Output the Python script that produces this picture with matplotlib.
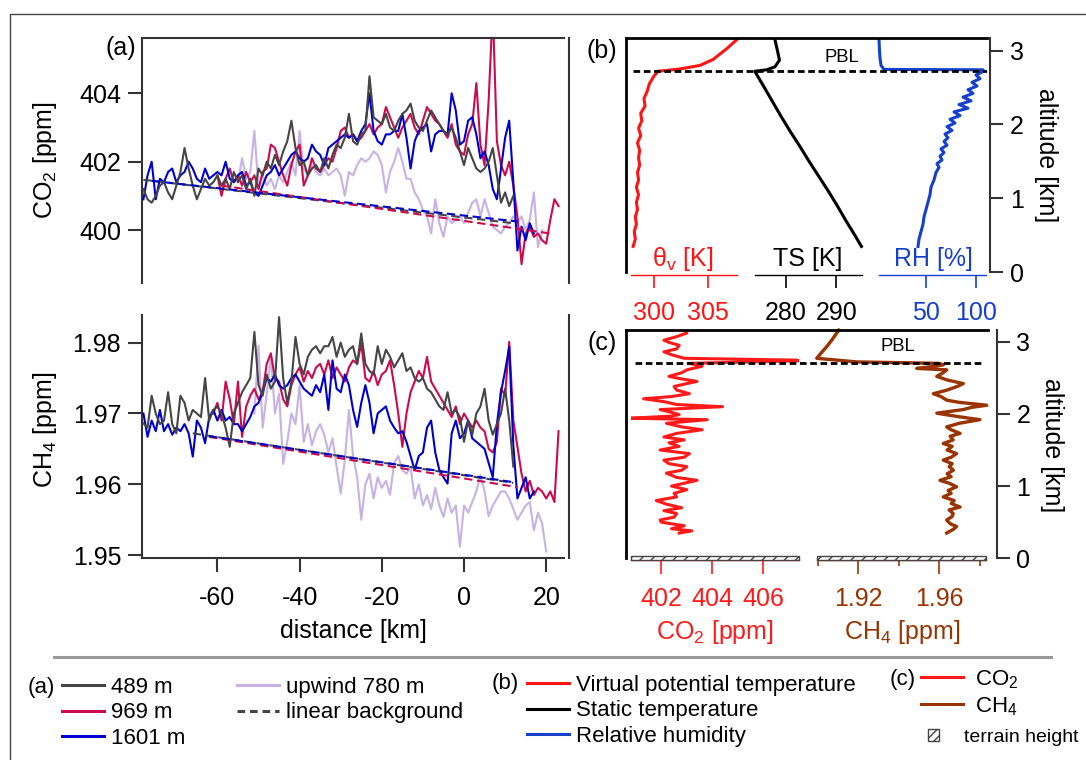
import numpy as np
import matplotlib
matplotlib.use('Agg')
import matplotlib.pyplot as plt
from matplotlib.lines import Line2D
from matplotlib.patches import Rectangle
from matplotlib.ticker import FormatStrFormatter

plt.rcParams['font.family'] = ['Liberation Sans', 'DejaVu Sans']
plt.rcParams['mathtext.fontset'] = 'custom'
plt.rcParams['mathtext.rm'] = 'Liberation Sans'
plt.rcParams['mathtext.it'] = 'Liberation Sans:italic'
plt.rcParams['mathtext.bf'] = 'Liberation Sans:bold'
plt.rcParams['axes.unicode_minus'] = False
plt.rcParams['hatch.linewidth'] = 1.0

# ---------------- data: horizontal transects (1 km spacing) ----------------
co2_489_start = -78
co2_489 = [
    401.2, 400.9, 400.8, 401.0, 401.3, 401.4, 401.1, 400.9, 401.3, 401.7,
    402.4, 401.8, 401.3, 400.9, 401.2, 401.5, 401.3, 401.4, 401.6, 401.3,
    401.5, 401.2, 401.7, 401.4, 401.6, 401.2, 401.5, 401.0, 401.8, 401.6,
    402.0, 401.8, 402.2, 401.9, 402.3, 402.6, 403.2, 402.4, 401.9, 402.0,
    401.6, 401.8, 401.9, 401.7, 402.1, 401.8, 402.2, 402.5, 402.4, 402.7,
    403.4, 402.6, 402.5, 402.8, 402.9, 404.5, 403.3, 403.2, 403.1, 403.4,
    403.0, 402.9, 403.2, 403.4, 403.5, 403.7, 403.2, 403.0, 402.9, 403.2,
    403.5, 403.3, 403.1, 402.9, 402.8, 403.0, 402.7, 402.3, 401.9, 402.4,
    402.1, 401.8, 401.7, 401.8, 402.0, 402.4, 401.6, 400.8, 401.1, 400.7,
    401.0]
co2_969_start = -60
co2_969 = [
    401.6, 401.0, 401.5, 401.8, 401.4, 401.6, 401.3, 401.7, 401.4, 401.6,
    401.2, 401.7, 401.8, 402.5, 402.4, 402.0, 401.6, 401.3, 401.9, 402.3,
    402.5, 401.3, 401.6, 402.1, 401.8, 401.7, 401.9, 402.1, 402.0, 402.4,
    402.9, 403.0, 402.7, 402.8, 402.6, 402.7, 402.9, 403.1, 402.8, 403.0,
    403.1, 403.6, 403.3, 403.0, 402.7, 403.0, 403.2, 403.4, 403.0, 402.8,
    403.2, 403.6, 403.4, 403.2, 403.1, 402.9, 402.7, 403.1, 402.5, 402.3,
    402.2, 402.8, 403.1, 404.3, 402.5, 401.9, 403.8, 406.5, 402.6, 401.9,
    401.6, 402.0, 401.3, 400.4, 399.0, 399.9, 400.1, 399.8, 399.9, 399.7,
    399.6, 400.3, 400.9, 400.7]
co2_1601_start = -78
co2_1601 = [
    400.9, 401.6, 402.0, 400.9, 401.5, 401.4, 401.7, 401.8, 401.4, 401.6,
    401.7, 402.0, 401.8, 401.5, 401.4, 401.8, 401.5, 401.6, 401.7, 401.6,
    402.0, 401.5, 401.4, 401.6, 401.7, 401.3, 401.4, 401.1, 401.0, 401.3,
    401.6, 401.7, 401.9, 401.6, 401.8, 402.0, 402.2, 402.3, 402.1, 402.0,
    402.1, 402.5, 402.3, 402.2, 401.9, 402.4, 402.5, 402.6, 402.7, 402.8,
    402.7, 402.8, 402.6, 402.9, 403.1, 404.0, 402.9, 402.6, 402.5, 402.8,
    402.8, 402.9, 402.9, 403.4, 402.7, 401.8, 402.6, 402.9, 403.0, 403.1,
    402.3, 402.8, 402.9, 402.9, 402.8, 404.0, 403.5, 402.5, 402.6, 403.2,
    403.3, 402.8, 402.1, 402.3, 401.9, 401.2, 400.9, 401.8, 402.7, 403.2,
    401.4, 399.4, 400.1, 399.7, 400.2, 399.9]
co2_up_start = -55
co2_up = [
    401.4, 402.1, 401.5, 401.7, 402.9, 401.2, 401.6, 401.3, 401.5, 401.2,
    401.6, 401.4, 401.7, 402.0, 401.6, 402.9, 401.8, 401.6, 401.9, 401.7,
    401.6, 401.8, 401.6, 401.7, 401.8, 401.6, 401.0, 401.7, 401.6, 401.9,
    402.1, 402.0, 402.1, 402.3, 402.2, 401.9, 401.1, 401.7, 402.0, 402.4,
    402.0, 401.5, 401.5, 401.1, 400.9, 400.6, 400.4, 399.9, 400.9, 400.2,
    399.8, 400.4, 400.2, 400.3, 400.4, 400.2, 400.5, 400.8, 400.9, 400.4,
    400.9, 400.5, 400.1, 400.0, 399.9, 400.1, 400.2, 400.4, 400.2, 400.4,
    400.0, 400.3, 401.1, 399.5, 400.0]

ch4_489_start = -78
ch4_489 = [
    1.9686, 1.9680, 1.9725, 1.9700, 1.9685, 1.9690, 1.9730, 1.9685, 1.9672, 1.9725,
    1.9715, 1.9690, 1.9705, 1.9700, 1.9695, 1.9750, 1.9690, 1.9705, 1.9710, 1.9700,
    1.9680, 1.9653, 1.9700, 1.9715, 1.9730, 1.9740, 1.9750, 1.9815, 1.9740, 1.9725,
    1.9755, 1.9735, 1.9745, 1.9836, 1.9750, 1.9715, 1.9745, 1.9808, 1.9770, 1.9755,
    1.9780, 1.9790, 1.9795, 1.9785, 1.9795, 1.9795, 1.9808, 1.9780, 1.9800, 1.9780,
    1.9790, 1.9795, 1.9770, 1.9813, 1.9770, 1.9760, 1.9755, 1.9795, 1.9770, 1.9790,
    1.9780, 1.9765, 1.9775, 1.9785, 1.9760, 1.9765, 1.9750, 1.9745, 1.9750, 1.9735,
    1.9730, 1.9720, 1.9710, 1.9705, 1.9730, 1.9700, 1.9705, 1.9695, 1.9660, 1.9690,
    1.9670, 1.9700, 1.9710, 1.9735, 1.9690, 1.9670, 1.9685, 1.9700, 1.9735, 1.9690,
    1.9625]
ch4_969_start = -61
ch4_969 = [
    1.9700, 1.9715, 1.9690, 1.9745, 1.9720, 1.9685, 1.9745, 1.9667, 1.9710, 1.9725,
    1.9735, 1.9720, 1.9730, 1.9770, 1.9785, 1.9750, 1.9745, 1.9720, 1.9710, 1.9740,
    1.9755, 1.9765, 1.9745, 1.9760, 1.9750, 1.9765, 1.9770, 1.9755, 1.9775, 1.9750,
    1.9765, 1.9755, 1.9745, 1.9765, 1.9775, 1.9770, 1.9799, 1.9750, 1.9745, 1.9760,
    1.9740, 1.9755, 1.9760, 1.9775, 1.9740, 1.9700, 1.9653, 1.9700, 1.9730, 1.9745,
    1.9760, 1.9750, 1.9780, 1.9745, 1.9735, 1.9725, 1.9715, 1.9705, 1.9695, 1.9710,
    1.9685, 1.9700, 1.9690, 1.9680, 1.9690, 1.9680, 1.9675, 1.9650, 1.9645, 1.9660,
    1.9735, 1.9725, 1.9801, 1.9690, 1.9653, 1.9615, 1.9590, 1.9605, 1.9585, 1.9595,
    1.9590, 1.9580, 1.9590, 1.9575, 1.9675]
ch4_1601_start = -78
ch4_1601 = [
    1.9700, 1.9667, 1.9690, 1.9675, 1.9705, 1.9675, 1.9685, 1.9670, 1.9680, 1.9675,
    1.9685, 1.9672, 1.9639, 1.9690, 1.9680, 1.9658, 1.9695, 1.9705, 1.9690, 1.9705,
    1.9690, 1.9695, 1.9685, 1.9685, 1.9675, 1.9685, 1.9695, 1.9710, 1.9715, 1.9730,
    1.9750, 1.9745, 1.9755, 1.9740, 1.9735, 1.9740, 1.9750, 1.9755, 1.9745, 1.9735,
    1.9730, 1.9725, 1.9740, 1.9730, 1.9755, 1.9705, 1.9775, 1.9735, 1.9730, 1.9755,
    1.9740, 1.9705, 1.9681, 1.9715, 1.9740, 1.9715, 1.9672, 1.9700, 1.9705, 1.9710,
    1.9690, 1.9680, 1.9672, 1.9675, 1.9660, 1.9640, 1.9620, 1.9640, 1.9645, 1.9680,
    1.9690, 1.9645, 1.9620, 1.9610, 1.9601, 1.9672, 1.9690, 1.9665, 1.9672, 1.9690,
    1.9665, 1.9660, 1.9655, 1.9650, 1.9630, 1.9610, 1.9685, 1.9730, 1.9760, 1.9794,
    1.9655, 1.9580, 1.9595, 1.9610, 1.9580, 1.9590]
ch4_up_start = -51
ch4_up = [
    1.9700, 1.9796, 1.9680, 1.9728, 1.9780, 1.9700, 1.9728, 1.9629, 1.9660, 1.9700,
    1.9685, 1.9740, 1.9660, 1.9685, 1.9655, 1.9675, 1.9685, 1.9670, 1.9645, 1.9665,
    1.9625, 1.9587, 1.9635, 1.9705, 1.9640, 1.9610, 1.9550, 1.9600, 1.9615, 1.9580,
    1.9610, 1.9595, 1.9605, 1.9585, 1.9630, 1.9640, 1.9620, 1.9615, 1.9625, 1.9580,
    1.9600, 1.9570, 1.9585, 1.9565, 1.9595, 1.9570, 1.9554, 1.9580, 1.9560, 1.9570,
    1.9512, 1.9570, 1.9560, 1.9575, 1.9590, 1.9613, 1.9590, 1.9555, 1.9570, 1.9580,
    1.9590, 1.9590, 1.9580, 1.9565, 1.9550, 1.9560, 1.9570, 1.9575, 1.9535, 1.9560,
    1.9545, 1.9505]

# linear backgrounds (end points)
bg_co2_489_x, bg_co2_489 = [-78, 12], [401.47, 400.20]
bg_co2_969_x, bg_co2_969 = [-59, 21], [401.30, 399.90]
bg_co2_1601_x, bg_co2_1601 = [-76, 13], [401.44, 400.25]
bg_ch4_489_x, bg_ch4_489 = [-66, 12], [1.9672, 1.9602]
bg_ch4_969_x, bg_ch4_969 = [-62, 13], [1.9667, 1.9596]
bg_ch4_1601_x, bg_ch4_1601 = [-62, 12], [1.9668, 1.9603]

# ---------------- data: vertical profiles ----------------
theta_alt = [0.35, 0.45, 0.55, 0.65, 0.75, 0.85, 0.95, 1.05, 1.15, 1.25,
             1.35, 1.45, 1.55, 1.65, 1.75, 1.85, 1.95, 2.05, 2.15, 2.25,
             2.35, 2.45, 2.55, 2.65, 2.72, 2.75, 2.80, 2.88, 3.03, 3.15]
theta_v = [298.1, 298.3, 298.2, 298.4, 298.3, 298.5, 298.4, 298.6, 298.4, 298.6,
           298.5, 298.7, 298.6, 298.7, 298.5, 298.8, 298.6, 298.9, 298.8, 299.2,
           299.1, 299.4, 299.6, 300.0, 300.4, 302.4, 304.3, 305.5, 306.8, 307.7]
ts_alt = [0.35, 0.5, 0.7, 0.9, 1.1, 1.3, 1.5, 1.7, 1.9, 2.1,
          2.3, 2.5, 2.65, 2.72, 2.74, 2.78, 2.87, 3.0, 3.15]
ts = [295.0, 293.7, 291.9, 290.2, 288.4, 286.5, 284.6, 282.8, 280.9, 279.1,
      277.4, 275.7, 274.4, 273.8, 276.2, 277.8, 278.7, 278.3, 277.8]
rh_alt = [0.35, 0.45, 0.55, 0.65, 0.75, 0.85, 0.95, 1.05, 1.15, 1.25,
          1.35, 1.42, 1.47, 1.52, 1.57, 1.62, 1.67, 1.72, 1.77, 1.82,
          1.87, 1.92, 1.97, 2.02, 2.07, 2.12, 2.17, 2.22, 2.27, 2.32,
          2.37, 2.42, 2.47, 2.52, 2.57, 2.62, 2.67, 2.71, 2.74, 2.745,
          2.8, 2.9, 3.0, 3.15]
rh = [42, 43, 45, 47, 48, 50, 52, 54, 55, 58,
      60, 63, 61, 66, 64, 68, 65, 71, 68, 72,
      69, 76, 71, 79, 74, 84, 78, 92, 83, 95,
      87, 97, 92, 101, 96, 104, 100, 106, 107, 8,
      5, 4, 3.5, 3]
co2_alt = [0.35, 0.38, 0.41, 0.45, 0.50, 0.53, 0.57, 0.62, 0.66, 0.70,
           0.75, 0.80, 0.85, 0.90, 0.95, 1.00, 1.04, 1.08, 1.12, 1.18,
           1.22, 1.27, 1.31, 1.36, 1.40, 1.45, 1.50, 1.55, 1.60, 1.64,
           1.68, 1.73, 1.78, 1.82, 1.87, 1.92, 1.94, 1.97, 1.99, 2.03,
           2.06, 2.10, 2.13, 2.17, 2.21, 2.24, 2.28, 2.33, 2.38, 2.42,
           2.45, 2.49, 2.52, 2.57, 2.61, 2.66, 2.70, 2.735, 2.745, 2.77,
           2.82, 2.86, 2.90, 2.95, 2.99, 3.02, 3.07, 3.12, 3.16]
co2_prof = [402.7, 403.2, 402.4, 402.9, 402.0, 401.95, 402.5, 402.6, 402.1, 402.8,
            402.2, 401.8, 402.6, 402.5, 403.0, 402.4, 402.9, 403.4, 402.6, 402.2,
            402.8, 403.0, 402.3, 402.1, 402.9, 403.1, 401.95, 402.7, 402.3, 402.9,
            402.1, 402.6, 403.6, 402.8, 402.2, 403.8, 400.8, 402.4, 402.7, 402.3,
            401.95, 404.4, 402.6, 402.1, 401.3, 402.4, 403.1, 402.6, 402.5, 403.0,
            403.4, 402.7, 402.3, 402.8, 403.0, 403.6, 403.1, 407.4, 407.3, 402.9,
            402.4, 402.1, 402.6, 402.7, 402.3, 402.1, 402.6, 403.0, 402.9]
ch4_alt = [0.35, 0.40, 0.44, 0.48, 0.53, 0.58, 0.62, 0.67, 0.71, 0.76,
           0.80, 0.85, 0.90, 0.94, 0.99, 1.04, 1.08, 1.13, 1.17, 1.22,
           1.27, 1.31, 1.36, 1.40, 1.45, 1.50, 1.55, 1.59, 1.64, 1.69,
           1.73, 1.78, 1.82, 1.87, 1.92, 1.96, 2.01, 2.06, 2.09, 2.12,
           2.16, 2.19, 2.24, 2.28, 2.33, 2.38, 2.42, 2.47, 2.52, 2.57,
           2.61, 2.63, 2.66, 2.68, 2.70, 2.72, 2.77, 2.85, 2.93, 3.02,
           3.12, 3.16]
ch4_prof = [1.9638, 1.9670, 1.9687, 1.9655, 1.9638, 1.9665, 1.9670, 1.9650, 1.9704, 1.9660,
            1.9675, 1.9621, 1.9660, 1.9645, 1.9687, 1.9650, 1.9605, 1.9660, 1.9640, 1.9671,
            1.9650, 1.9665, 1.9621, 1.9660, 1.9687, 1.9640, 1.9665, 1.9621, 1.9670, 1.9655,
            1.9704, 1.9660, 1.9638, 1.9700, 1.9802, 1.9700, 1.9589, 1.9720, 1.9760, 1.9836,
            1.9700, 1.9638, 1.9610, 1.9572, 1.9640, 1.9690, 1.9720, 1.9640, 1.9589, 1.9620,
            1.9638, 1.9490, 1.9580, 1.9621, 1.9600, 1.9194, 1.8996, 1.9020, 1.9045, 1.9070,
            1.9095, 1.9105]
pbl_b = 2.72
pbl_c = 2.71

# ---------------- styling ----------------
C489 = '#454545'
C969 = '#CC0A4E'
C1601 = '#0000CC'
CUP = '#C8B2E4'
C_TH = '#FF1414'
C_TS = '#000000'
C_RH = '#1440CC'
C_CO2 = '#FF1A1A'
C_CH4 = '#993300'
C_AX = '#333333'
TICK = 18
LEG = 16

W, H = 1086, 760
fig = plt.figure(figsize=(W / 100, H / 100), dpi=100)


def rect(l, t, r, b):
    return [l / W, 1 - b / H, (r - l) / W, (b - t) / H]


def fx(px):
    return px / W


def fy(py):
    return 1 - py / H


def xs(start, vals):
    return start + np.arange(len(vals))


# ---------------- panel (a) ----------------
XLIM = (-78.35, 24.33)


def transect_axes(box, ylim, yticks, fmt):
    ax = fig.add_axes(rect(*box))
    ax.set_xlim(*XLIM)
    ax.set_ylim(*ylim)
    ax.set_yticks(yticks)
    ax.yaxis.set_major_formatter(FormatStrFormatter(fmt))
    ax.spines['right'].set_position(('outward', 3.6))
    for s in ax.spines.values():
        s.set_linewidth(1.5)
        s.set_color(C_AX)
    ax.tick_params(axis='y', length=10, width=1.5, pad=5.0, labelsize=TICK, color=C_AX)
    return ax


ax1 = transect_axes((142, 38, 564, 283), (398.45, 405.62), [400, 402, 404], '%d')
ax1.spines['bottom'].set_visible(False)
ax1.set_xticks([])
ax1.plot(xs(co2_up_start, co2_up), co2_up, color=CUP, lw=1.5, zorder=1)
ax1.plot(xs(co2_969_start, co2_969), co2_969, color=C969, lw=1.5, zorder=2)
ax1.plot(xs(co2_1601_start, co2_1601), co2_1601, color=C1601, lw=1.5, zorder=3)
ax1.plot(xs(co2_489_start, co2_489), co2_489, color=C489, lw=1.5, zorder=4)
ax1.plot(bg_co2_489_x, bg_co2_489, color=C489, lw=1.5, dashes=(4, 2.2), zorder=5)
ax1.plot(bg_co2_969_x, bg_co2_969, color=C969, lw=1.5, dashes=(4, 2.2), zorder=5)
ax1.plot(bg_co2_1601_x, bg_co2_1601, color=C1601, lw=1.5, dashes=(4, 2.2), zorder=5)

ax2 = transect_axes((142, 315, 564, 558), (1.9496, 1.9839), [1.95, 1.96, 1.97, 1.98], '%.2f')
ax2.spines['top'].set_visible(False)
ax2.set_xticks([-60, -40, -20, 0, 20])
ax2.tick_params(axis='x', length=10, width=1.5, pad=10.5, labelsize=TICK, color=C_AX)
ax2.plot(xs(ch4_up_start, ch4_up), ch4_up, color=CUP, lw=1.5, zorder=1)
ax2.plot(xs(ch4_969_start, ch4_969), ch4_969, color=C969, lw=1.5, zorder=2)
ax2.plot(xs(ch4_1601_start, ch4_1601), ch4_1601, color=C1601, lw=1.5, zorder=3)
ax2.plot(xs(ch4_489_start, ch4_489), ch4_489, color=C489, lw=1.5, zorder=4)
ax2.plot(bg_ch4_489_x, bg_ch4_489, color=C489, lw=1.5, dashes=(4, 2.2), zorder=5)
ax2.plot(bg_ch4_969_x, bg_ch4_969, color=C969, lw=1.5, dashes=(4, 2.2), zorder=5)
ax2.plot(bg_ch4_1601_x, bg_ch4_1601, color=C1601, lw=1.5, dashes=(4, 2.2), zorder=5)

fig.text(fx(136), fy(48), '(a)', ha='right', va='center', fontsize=TICK)
fig.text(fx(45), fy(160), r'CO$_\mathregular{2}$ [ppm]', rotation=90, ha='center', va='center', fontsize=TICK)
fig.text(fx(45), fy(430), r'CH$_\mathregular{4}$ [ppm]', rotation=90, ha='center', va='center', fontsize=TICK)
fig.text(fx(353), fy(631), 'distance [km]', ha='center', va='center', fontsize=TICK)


# ---------------- panels (b) and (c) ----------------
def sub_axis(l, r, t, b, xlim, ylim, color, ticks, off, tlen, tpad, fmt):
    ax = fig.add_axes(rect(l, t, r, b))
    ax.patch.set_visible(False)
    for s in ('left', 'right', 'top'):
        ax.spines[s].set_visible(False)
    ax.spines['bottom'].set_position(('outward', off))
    ax.spines['bottom'].set_color(color)
    ax.spines['bottom'].set_linewidth(1.0)
    ax.set_xlim(*xlim)
    ax.set_ylim(*ylim)
    ax.set_xticks(ticks)
    ax.xaxis.set_major_formatter(FormatStrFormatter(fmt))
    ax.tick_params(axis='x', colors=color, length=tlen, width=1.2, pad=tpad, labelsize=TICK)
    ax.tick_params(axis='y', left=False, labelleft=False)
    return ax


def frame_axes(box, ylim, right_off, tpad):
    ax = fig.add_axes(rect(*box))
    ax.patch.set_visible(False)
    ax.set_xlim(0, 1)
    ax.set_ylim(*ylim)
    ax.spines['bottom'].set_visible(False)
    ax.spines['left'].set_linewidth(2)
    ax.spines['top'].set_linewidth(2)
    ax.spines['right'].set_position(('outward', right_off))
    ax.spines['right'].set_color(C_AX)
    ax.spines['right'].set_linewidth(1.5)
    ax.set_xticks([])
    ax.yaxis.tick_right()
    ax.set_yticks([0, 1, 2, 3])
    ax.tick_params(axis='y', length=9, width=1.5, pad=tpad, labelsize=TICK, color=C_AX)
    return ax


B_BOX = (38, 272.3)
B_YLIM = (0, 3.17)
ax_th = sub_axis(631, 737, *B_BOX, (297.9, 307.71), B_YLIM, C_TH, [300, 305], 2.2, 9.4, 9.0, '%d')
ax_th.plot(theta_v, theta_alt, color=C_TH, lw=2.2, clip_on=False, solid_joinstyle='round')
ax_ts = sub_axis(755, 862, *B_BOX, (273.84, 295.11), B_YLIM, C_TS, [280, 290], 2.2, 9.4, 9.0, '%d')
ax_ts.plot(ts, ts_alt, color=C_TS, lw=2.2, clip_on=False, solid_joinstyle='round')
ax_rh = sub_axis(879, 986, *B_BOX, (3, 110), B_YLIM, C_RH, [50, 100], 2.2, 9.4, 9.0, '%d')
ax_rh.plot(rh, rh_alt, color=C_RH, lw=2.2, clip_on=False, solid_joinstyle='round')

fb = frame_axes((626, 38, 987, 272.3), B_YLIM, 2.2, 5.5)
fb.axhline(pbl_b, xmin=0.02, xmax=1.0, color='k', lw=2, ls=(0, (2.4, 1.3)))
fb.text(0.598, 2.91, 'PBL', ha='center', va='center', fontsize=13.3)

fig.text(fx(683), fy(259), r'θ$_\mathregular{v}$ [K]', ha='center', va='center', fontsize=TICK, color=C_TH)
fig.text(fx(808), fy(259), 'TS [K]', ha='center', va='center', fontsize=TICK, color=C_TS)
fig.text(fx(933), fy(259), 'RH [%]', ha='center', va='center', fontsize=TICK, color=C_RH)
fig.text(fx(602), fy(51), '(b)', ha='center', va='center', fontsize=TICK)
fig.text(fx(1046), fy(155), 'altitude [km]', rotation=270, ha='center', va='center', fontsize=TICK)

C_BOX = (330, 558.3)
C_YLIM = (0, 3.162)
ax_co2 = sub_axis(631, 799, *C_BOX, (400.81, 407.4), C_YLIM, C_CO2, [402, 404, 406], 1.4, 10, 9.5, '%d')
ax_co2.plot(co2_prof, co2_alt, color=C_CO2, lw=2.2, solid_joinstyle='round')
ax_ch4 = sub_axis(817, 986, *C_BOX, (1.89975, 1.98321), C_YLIM, C_CH4, [1.92, 1.96], 1.4, 10, 9.5, '%.2f')
ax_ch4.set_xticks([1.90, 1.94, 1.98], minor=True)
ax_ch4.tick_params(axis='x', which='minor', colors=C_CH4, length=4.5, width=1.2)
ax_ch4.plot(ch4_prof, ch4_alt, color=C_CH4, lw=2.4, clip_on=False, solid_joinstyle='round')
for a in (ax_co2, ax_ch4):
    a.add_patch(Rectangle((0, -0.024), 1, 0.056, transform=a.get_yaxis_transform(),
                          facecolor='white', edgecolor='#444444', hatch='///', lw=1.0,
                          clip_on=False, zorder=3))

fc = frame_axes((626, 330, 988, 558.3), C_YLIM, 6.5, 5.0)
fc.axhline(pbl_c, xmin=0.025, xmax=0.99, color='k', lw=2, ls=(0, (2.4, 1.3)))
fc.text(0.751, 2.93, 'PBL', ha='center', va='center', fontsize=13.3)

fig.text(fx(715), fy(632), r'CO$_\mathregular{2}$ [ppm]', ha='center', va='center', fontsize=TICK, color=C_CO2)
fig.text(fx(902), fy(632), r'CH$_\mathregular{4}$ [ppm]', ha='center', va='center', fontsize=TICK, color=C_CH4)
fig.text(fx(602), fy(343), '(c)', ha='center', va='center', fontsize=TICK)
fig.text(fx(1052), fy(445), 'altitude [km]', rotation=270, ha='center', va='center', fontsize=TICK)

# ---------------- legend area ----------------
fig.add_artist(Line2D([fx(10), fx(10), fx(1090)], [fy(770), fy(14), fy(14)], color='#444444', lw=1))
fig.add_artist(Line2D([fx(54), fx(1051)], [fy(657), fy(657)], color='#999999', lw=2.2))


def hl(c, **kw):
    return Line2D([], [], color=c, lw=2.2, **kw)


leg_kw = dict(loc='upper left', frameon=False, fontsize=LEG, borderpad=0, borderaxespad=0,
              labelspacing=0.2, handlelength=1.9, handletextpad=0.31)
fig.legend([hl(C489), hl(C969), hl(C1601), hl(CUP), hl(C489, dashes=(2.5, 1.6))],
           ['489 m', '969 m', '1601 m', 'upwind 780 m', 'linear background'],
           ncol=2, columnspacing=2.3, bbox_to_anchor=(fx(62), fy(677)), **leg_kw)
fig.legend([hl(C_TH), hl(C_TS), hl(C_RH)],
           ['Virtual potential temperature', 'Static temperature', 'Relative humidity'],
           bbox_to_anchor=(fx(527), fy(675)), **leg_kw)
kw_c = dict(leg_kw)
kw_c['handletextpad'] = 0.54
kw_c['labelspacing'] = 0.2
fig.legend([hl(C_CO2), hl(C_CH4)], [r'CO$_\mathregular{2}$', r'CH$_\mathregular{4}$'],
           bbox_to_anchor=(fx(921), fy(668)), **kw_c)
fig.legend([Rectangle((0, 0), 1, 1, facecolor='white', edgecolor='#444444', hatch='////', lw=1.0)],
           ['terrain height'], loc='upper left', frameon=False, fontsize=14, borderpad=0,
           borderaxespad=0, handlelength=0.55, handleheight=0.55, handletextpad=1.3,
           bbox_to_anchor=(fx(928), fy(729)))
fig.text(fx(28), fy(687), '(a)', ha='left', va='center', fontsize=LEG)
fig.text(fx(492), fy(684), '(b)', ha='left', va='center', fontsize=LEG)
fig.text(fx(890), fy(680), '(c)', ha='left', va='center', fontsize=LEG)

fig.savefig('out.png', dpi=100)
